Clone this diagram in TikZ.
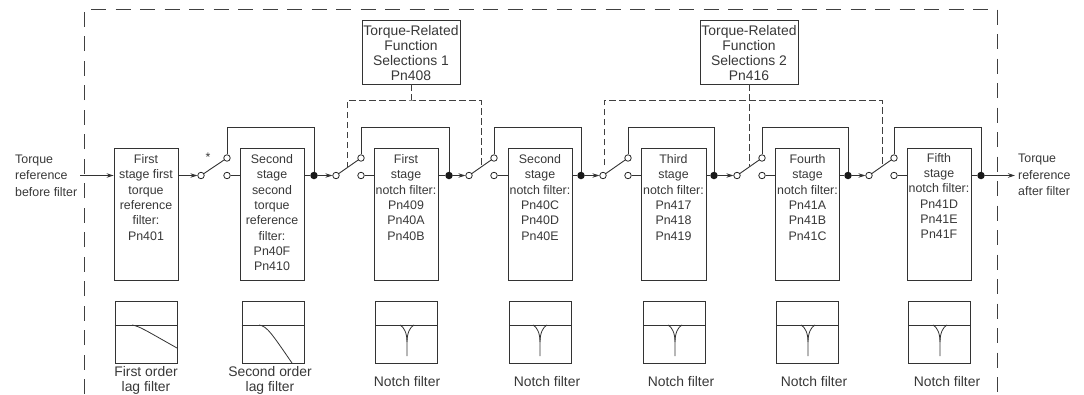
\documentclass[tikz,border=0pt]{standalone}
\usepackage{fontspec}
\setmainfont{Liberation Sans}
\usetikzlibrary{arrows.meta, positioning}

\tikzset{
    txt/.style={inner sep=0pt, align=center, text=black!78, font=\fontsize{12.4}{15.3}\selectfont},
    bigtxt/.style={txt, font=\fontsize{13.9}{15.3}\selectfont},
    sidetxt/.style={txt, align=left, anchor=west, font=\fontsize{12.4}{16.7}\selectfont},
    filterbox/.style={draw=black!80, line width=0.9pt, minimum width=64pt, minimum height=132pt, inner sep=0pt},
    graphbox/.style={draw=black!80, line width=0.9pt, minimum width=62pt, minimum height=62pt, inner sep=0pt},
    selbox/.style={draw=black!80, line width=0.9pt, minimum width=98pt, minimum height=64pt, inner sep=0pt},
    contact/.style={circle, draw=black!85, fill=white, line width=0.8pt, minimum size=6.5pt, inner sep=0pt},
    junction/.style={circle, fill=black!90, minimum size=7.5pt, inner sep=0pt},
    wire/.style={draw=black!80, line width=0.9pt},
    flow/.style={wire, -{Stealth[length=7pt, width=4.5pt]}},
    ctrl/.style={draw=black!75, line width=0.7pt, dash pattern=on 6.5pt off 3.5pt},
    outer/.style={draw=black!75, line width=0.9pt, dash pattern=on 15pt off 9.5pt},
    curve/.style={draw=black!80, line width=0.8pt}
}

\begin{document}
\begin{tikzpicture}[x=1pt, y=-1pt]
    \useasboundingbox (0, 0) rectangle (1084, 394);

    % outer frame
    \coordinate (frameBL) at (84, 394);
    \coordinate (frameTL) at (84, 9);
    \coordinate (frameTR) at (997, 9);
    \coordinate (frameBR) at (997, 394);
    \draw[outer] (frameBL) -- (frameTL) -- (frameTR) -- (frameBR);

    % input and output text
    \node[sidetxt] (inTxt) at (15, 175.5) {Torque\\reference\\before filter};
    \node[sidetxt] (outTxt) at (1018, 175) {Torque\\reference\\after filter};
    \coordinate (inStart) at (80, 175.5);
    \coordinate (outEnd) at (1015, 175.5);

    % filter blocks
    \node[filterbox] (F1) at (146, 214) {};
    \node[filterbox] (F2) at (272, 214) {};
    \node[filterbox] (F3) at (406, 214) {};
    \node[filterbox] (F4) at (540, 214) {};
    \node[filterbox, minimum width=65pt] (F5) at (673.5, 214) {};
    \node[filterbox] (F6) at (807.5, 214) {};
    \node[filterbox] (F7) at (939, 214) {};

    \node[txt, anchor=north] (F1txt) at (146, 154.5) {First\\stage first\\torque\\reference\\filter:\\Pn401};
    \node[txt, anchor=north] (F2txt) at (272, 154.5) {Second\\stage\\second\\torque\\reference\\filter:\\Pn40F\\Pn410};
    \node[txt, anchor=north] (F3txt) at (406, 154.5) {First\\stage\\notch filter:\\Pn409\\Pn40A\\Pn40B};
    \node[txt, anchor=north] (F4txt) at (540, 154.5) {Second\\stage\\notch filter:\\Pn40C\\Pn40D\\Pn40E};
    \node[txt, anchor=north] (F5txt) at (673.5, 154.5) {Third\\stage\\notch filter:\\Pn417\\Pn418\\Pn419};
    \node[txt, anchor=north] (F6txt) at (807.5, 154.5) {Fourth\\stage\\notch filter:\\Pn41A\\Pn41B\\Pn41C};
    \node[txt, anchor=north] (F7txt) at (939, 153) {Fifth\\stage\\notch filter:\\Pn41D\\Pn41E\\Pn41F};

    % selection blocks
    \node[selbox] (Sel1) at (411, 52) {};
    \node[selbox] (Sel2) at (749, 52) {};
    \node[bigtxt] (Sel1txt) at (411, 53) {Torque-Related\\Function\\Selections 1\\Pn408};
    \node[bigtxt] (Sel2txt) at (749, 53) {Torque-Related\\Function\\Selections 2\\Pn416};

    % junctions
    \node[junction] (J2) at (314, 175.5) {};
    \node[junction] (J3) at (449, 175.5) {};
    \node[junction] (J4) at (581, 175.5) {};
    \node[junction] (J5) at (714, 175.5) {};
    \node[junction] (J6) at (848, 175.5) {};
    \node[junction] (J7) at (981, 175.5) {};

    % switches
    \node[contact] (S1in) at (201, 175.5) {};
    \node[contact] (S1top) at (227, 158) {};
    \node[contact] (S1bot) at (227, 175.5) {};
    \node[contact] (S2in) at (336, 175.5) {};
    \node[contact] (S2top) at (361, 158) {};
    \node[contact] (S2bot) at (361, 175.5) {};
    \node[contact] (S3in) at (469, 175.5) {};
    \node[contact] (S3top) at (494, 158) {};
    \node[contact] (S3bot) at (494, 175.5) {};
    \node[contact] (S4in) at (603, 175.5) {};
    \node[contact] (S4top) at (628, 158) {};
    \node[contact] (S4bot) at (628, 175.5) {};
    \node[contact] (S5in) at (737, 175.5) {};
    \node[contact] (S5top) at (762, 158) {};
    \node[contact] (S5bot) at (762, 175.5) {};
    \node[contact] (S6in) at (869, 175.5) {};
    \node[contact] (S6top) at (894, 158) {};
    \node[contact] (S6bot) at (894, 175.5) {};
    \node[txt] (star) at (208, 157) {*};

    \draw[wire] (S1in) -- (S1top);
    \draw[wire] (S2in) -- (S2top);
    \draw[wire] (S3in) -- (S3top);
    \draw[wire] (S4in) -- (S4top);
    \draw[wire] (S5in) -- (S5top);
    \draw[wire] (S6in) -- (S6top);

    % main line
    \draw[flow] (inStart) -- (F1.west |- inStart);
    \draw[flow] (F1.east |- S1in) -- (S1in.west);
    \draw[wire] (S1bot) -- (F2.west |- S1bot);
    \draw[wire] (F2.east |- J2) -- (J2);
    \draw[flow] (J2) -- (S2in.west);
    \draw[wire] (S2bot) -- (F3.west |- S2bot);
    \draw[wire] (F3.east |- J3) -- (J3);
    \draw[flow] (J3) -- (S3in.west);
    \draw[wire] (S3bot) -- (F4.west |- S3bot);
    \draw[wire] (F4.east |- J4) -- (J4);
    \draw[flow] (J4) -- (S4in.west);
    \draw[wire] (S4bot) -- (F5.west |- S4bot);
    \draw[wire] (F5.east |- J5) -- (J5);
    \draw[flow] (J5) -- (S5in.west);
    \draw[wire] (S5bot) -- (F6.west |- S5bot);
    \draw[wire] (F6.east |- J6) -- (J6);
    \draw[flow] (J6) -- (S6in.west);
    \draw[wire] (S6bot) -- (F7.west |- S6bot);
    \draw[wire] (F7.east |- J7) -- (J7);
    \draw[flow] (J7) -- (outEnd);

    % bypass lines
    \draw[wire] (S1top) -- ++(0, -31) -| (J2);
    \draw[wire] (S2top) -- ++(0, -31) -| (J3);
    \draw[wire] (S3top) -- ++(0, -31) -| (J4);
    \draw[wire] (S4top) -- ++(0, -31) -| (J5);
    \draw[wire] (S5top) -- ++(0, -31) -| (J6);
    \draw[wire] (S6top) -- ++(0, -31) -| (J7);

    % selection lines
    \coordinate (L2) at (347, 168);
    \coordinate (L3) at (481, 167);
    \coordinate (L4) at (604, 165);
    \coordinate (L5) at (749, 167);
    \coordinate (L6) at (882, 167);
    \coordinate (T1) at (411, 100);
    \coordinate (T2) at (749, 100);
    \draw[ctrl] (Sel1.south) -- (T1);
    \draw[ctrl] (L2) |- (T1) -| (L3);
    \draw[ctrl] (Sel2.south) -- (L5);
    \draw[ctrl] (L4) |- (T2) -| (L6);

    % response graphs
    \node[graphbox] (G1) at (146, 332) {};
    \node[graphbox] (G2) at (273, 332) {};
    \node[graphbox] (G3) at (406.5, 332) {};
    \node[graphbox] (G4) at (540.5, 332) {};
    \node[graphbox] (G5) at (674.5, 332) {};
    \node[graphbox] (G6) at (807.5, 332) {};
    \node[graphbox] (G7) at (939.5, 332) {};

    \draw[curve] ([yshift=7pt]G1.west) -- ([yshift=7pt]G1.east);
    \draw[curve] ([yshift=7pt]G2.west) -- ([yshift=7pt]G2.east);
    \draw[curve] ([yshift=7pt]G3.west) -- ([yshift=7pt]G3.east);
    \draw[curve] ([yshift=7pt]G4.west) -- ([yshift=7pt]G4.east);
    \draw[curve] ([yshift=7pt]G5.west) -- ([yshift=7pt]G5.east);
    \draw[curve] ([yshift=7pt]G6.west) -- ([yshift=7pt]G6.east);
    \draw[curve] ([yshift=7pt]G7.west) -- ([yshift=7pt]G7.east);

    \draw[curve] (132, 325) .. controls (139, 326) and (145, 330) .. (177, 348);
    \draw[curve] (259, 325) .. controls (267, 326) and (272, 334) .. (292, 363);
    \draw[curve] (400, 325) .. controls (404, 327) and (407, 333) .. (407, 342) -- (407, 356);
    \draw[curve] (414, 325) .. controls (410, 327) and (407, 333) .. (407, 342);
    \draw[curve] (533, 325) .. controls (537, 327) and (540, 333) .. (540, 342) -- (540, 356);
    \draw[curve] (547, 325) .. controls (543, 327) and (540, 333) .. (540, 342);
    \draw[curve] (668, 325) .. controls (672, 327) and (675, 333) .. (675, 342) -- (675, 356);
    \draw[curve] (682, 325) .. controls (678, 327) and (675, 333) .. (675, 342);
    \draw[curve] (801, 325) .. controls (805, 327) and (808, 333) .. (808, 342) -- (808, 356);
    \draw[curve] (815, 325) .. controls (811, 327) and (808, 333) .. (808, 342);
    \draw[curve] (933, 325) .. controls (937, 327) and (940, 333) .. (940, 342) -- (940, 356);
    \draw[curve] (947, 325) .. controls (943, 327) and (940, 333) .. (940, 342);

    \node[bigtxt] (G1txt) at (146, 380.5) {First order\\lag filter};
    \node[bigtxt] (G2txt) at (270, 380.5) {Second order\\lag filter};
    \node[bigtxt] (G3txt) at (407, 381.5) {Notch filter};
    \node[bigtxt] (G4txt) at (547, 381.5) {Notch filter};
    \node[bigtxt] (G5txt) at (681, 381.5) {Notch filter};
    \node[bigtxt] (G6txt) at (814, 381.5) {Notch filter};
    \node[bigtxt] (G7txt) at (947, 381.5) {Notch filter};
\end{tikzpicture}
\end{document}
